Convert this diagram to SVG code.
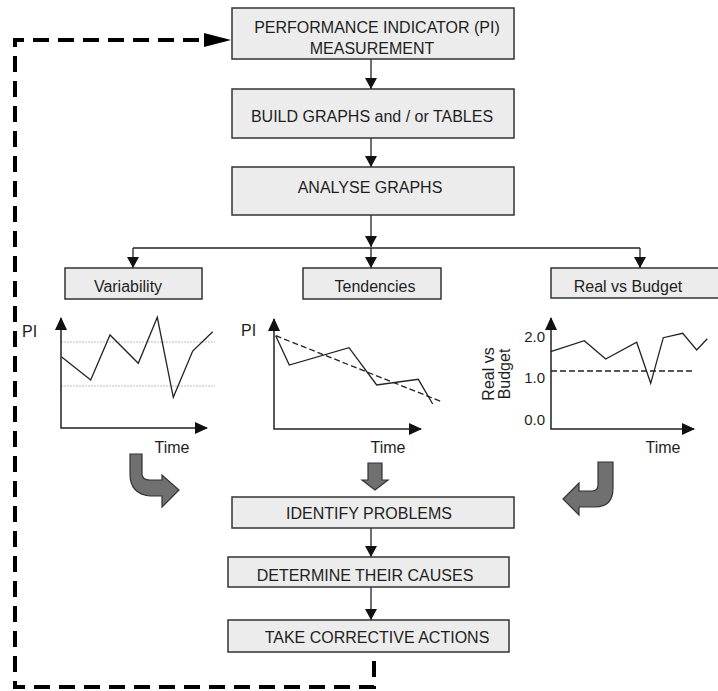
<svg xmlns="http://www.w3.org/2000/svg" width="718" height="691" viewBox="0 0 718 691">
  <defs>
    <marker id="ah" viewBox="0 0 11 12" refX="11" refY="6" markerWidth="11" markerHeight="12" markerUnits="userSpaceOnUse" orient="auto">
      <path d="M0,0 L11,6 L0,12 Z" fill="#111"/>
    </marker>
    <marker id="axis" viewBox="0 0 13 12" refX="12" refY="6" markerWidth="13" markerHeight="12" markerUnits="userSpaceOnUse" orient="auto-start-reverse">
      <path d="M0,0 L13,6 L0,12 Z" fill="#111"/>
    </marker>
    <style>
      .box { fill: #ececec; stroke: #333; stroke-width: 1.5; }
      .lbl { font-family: "Liberation Sans", Arial, sans-serif; font-size: 16px; fill: #1e1e1e; }
      .mid { text-anchor: middle; }
      .num { font-family: "Liberation Sans", Arial, sans-serif; font-size: 15px; fill: #1e1e1e; text-anchor: end; }
      .conn { fill: none; stroke: #222; stroke-width: 1.3; }
      .axisline { fill: none; stroke: #222; stroke-width: 1.5; }
      .data { fill: none; stroke: #222; stroke-width: 1.3; stroke-linejoin: miter; }
      .grid { fill: none; stroke: #bbb; stroke-width: 1; stroke-dasharray: 2 1; }
      .trend { fill: none; stroke: #222; stroke-width: 1.3; stroke-dasharray: 6 3; }
      .feedback { fill: none; stroke: #000; stroke-width: 4; stroke-dasharray: 16 9; }
      .block { fill: #707070; stroke: #333; stroke-width: 1.2; stroke-linejoin: miter; }
    </style>
  </defs>

  <!-- connectors -->
  <g id="connectors">
    <path class="conn" d="M371,59 L371,89" marker-end="url(#ah)"/>
    <path class="conn" d="M371,138 L371,167" marker-end="url(#ah)"/>
    <path class="conn" d="M371,215 L371,247" marker-end="url(#ah)"/>
    <path class="conn" d="M133,248 L640,248"/>
    <path class="conn" d="M133,248 L133,268" marker-end="url(#ah)"/>
    <path class="conn" d="M371,248 L371,268" marker-end="url(#ah)"/>
    <path class="conn" d="M640,248 L640,268" marker-end="url(#ah)"/>
    <path class="conn" d="M371,528 L371,557" marker-end="url(#ah)"/>
    <path class="conn" d="M371,587 L371,620" marker-end="url(#ah)"/>
    <!-- feedback loop back to measurement -->
    <path class="feedback" d="M374,661 L374,687 L15,687 L15,40 L206,40"/>
    <polygon points="204,33 231,40 204,47" fill="#000"/>
    <!-- block arrows from the charts -->
    <path class="block" d="M130,454 L142,454 L142,474 Q142,480 150,480 L162,480 L162,475 L179,490 L162,507 L162,496 L150,496 Q130,494 130,474 Z"/>
    <path class="block" d="M368,463 L382,463 L382,480 L388,480 L375,490 L362,480 L368,480 Z"/>
    <path class="block" d="M598,462 L613,462 L613,488 Q613,507 595,507 L579,507 L579,515 L563,499 L579,483 L579,491 L592,491 Q598,491 598,485 Z"/>
  </g>

  <g id="pi-measurement">
    <rect class="box" x="232" y="8" width="282" height="51"/>
    <text class="lbl mid" x="377" y="33">PERFORMANCE INDICATOR (PI)</text>
    <text class="lbl mid" x="372" y="54">MEASUREMENT</text>
  </g>

  <g id="build-graphs">
    <rect class="box" x="232" y="89" width="282" height="49"/>
    <text class="lbl mid" x="372" y="122">BUILD GRAPHS and / or TABLES</text>
  </g>

  <g id="analyse-graphs">
    <rect class="box" x="232" y="167" width="282" height="48"/>
    <text class="lbl mid" x="370" y="193">ANALYSE GRAPHS</text>
  </g>

  <g id="variability">
    <rect class="box" x="65" y="268" width="137" height="31"/>
    <text class="lbl mid" x="128" y="292">Variability</text>
  </g>

  <g id="tendencies">
    <rect class="box" x="303" y="268" width="138" height="31"/>
    <text class="lbl mid" x="375" y="292">Tendencies</text>
  </g>

  <g id="real-vs-budget">
    <rect class="box" x="551" y="268" width="180" height="30"/>
    <text class="lbl mid" x="628" y="292">Real vs Budget</text>
  </g>

  <!-- variability chart -->
  <g id="chart-variability">
    <text class="lbl" x="22" y="337">PI</text>
    <line class="grid" x1="61" y1="342" x2="215" y2="342"/>
    <line class="grid" x1="61" y1="386" x2="215" y2="386"/>
    <path class="axisline" d="M61,318 L61,428 L207,428" marker-start="url(#axis)" marker-end="url(#axis)"/>
    <polyline class="data" points="61.7,357 90.7,380 110,335 138.3,363.3 157.3,317.3 173.3,397.3 192.7,351 212.7,331.7"/>
    <text class="lbl mid" x="172" y="453">Time</text>
  </g>

  <!-- tendencies chart -->
  <g id="chart-tendencies">
    <text class="lbl" x="241" y="336">PI</text>
    <path class="axisline" d="M274,319 L274,429 L421,429" marker-start="url(#axis)" marker-end="url(#axis)"/>
    <polyline class="data" points="275.7,335.7 289.3,365 349,347.7 376.7,385 418.3,379.3 432.7,404"/>
    <line class="trend" x1="275.7" y1="335.7" x2="441.7" y2="401.7"/>
    <text class="lbl mid" x="388" y="453">Time</text>
  </g>

  <!-- real vs budget chart -->
  <g id="chart-budget">
    <text class="num" x="545" y="342">2.0</text>
    <text class="num" x="545" y="383">1.0</text>
    <text class="num" x="545" y="425">0.0</text>
    <text class="lbl mid" transform="translate(494,374) rotate(-90)">Real vs</text>
    <text class="lbl mid" transform="translate(510,374) rotate(-90)">Budget</text>
    <path class="axisline" d="M551,318 L551,429 L694,429" marker-start="url(#axis)" marker-end="url(#axis)"/>
    <line class="trend" x1="551" y1="371" x2="695" y2="371"/>
    <polyline class="data" points="550.7,351.7 584.3,340.7 605.7,359 636.7,342.3 650.7,383.3 663.3,337.7 682.7,333.3 696.7,350 707.3,338.7"/>
    <text class="lbl mid" x="663" y="453">Time</text>
  </g>

  <g id="identify-problems">
    <rect class="box" x="232" y="497" width="282" height="31"/>
    <text class="lbl mid" x="369" y="519">IDENTIFY PROBLEMS</text>
  </g>

  <g id="determine-causes">
    <rect class="box" x="228" y="557" width="281" height="30"/>
    <text class="lbl mid" x="365" y="581">DETERMINE THEIR CAUSES</text>
  </g>

  <g id="corrective-actions">
    <rect class="box" x="228" y="620" width="281" height="32"/>
    <text class="lbl mid" x="377" y="643">TAKE CORRECTIVE ACTIONS</text>
  </g>
</svg>
